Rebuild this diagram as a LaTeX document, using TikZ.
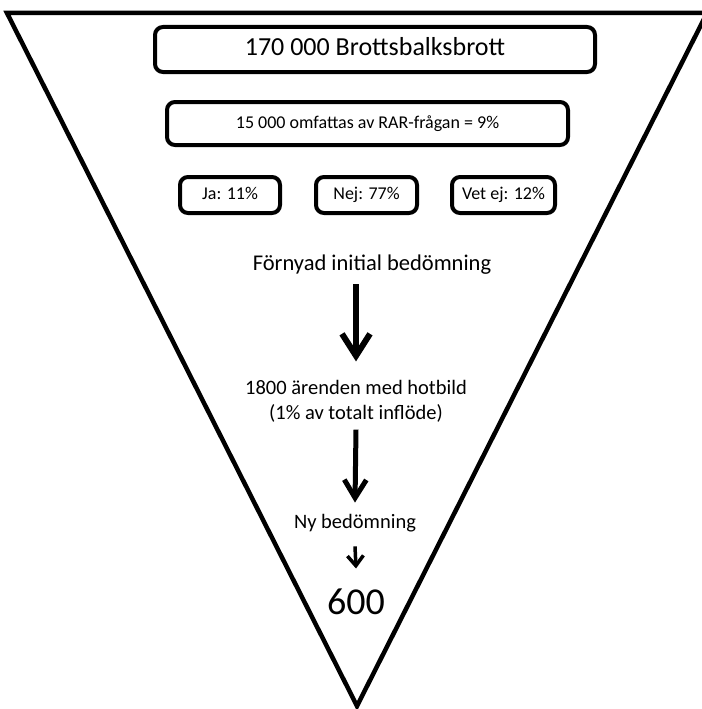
\documentclass[tikz,border=0pt]{standalone}
\usepackage{fontspec}
\setmainfont{Carlito}
\usepackage{tikz}
\usetikzlibrary{arrows.meta}

\begin{document}
\begin{tikzpicture}[x=1pt,y=-1pt,
        box/.style={draw,line width=4pt,rounded corners=8pt,inner sep=0pt,
            text height=12.5pt,text depth=3.5pt,font=\fontsize{18}{21}\selectfont},
        flow/.style={line width=6pt,-{Straight Barb[length=22pt,width=28pt]}}]
            \useasboundingbox (0,0) rectangle (701,709);

            %funnel
            \draw[line width=4.5pt,line join=miter] (7,13) -- (707,13) -- (357,706) -- cycle;

            \node[box,minimum width=440pt,minimum height=45pt,text height=18pt,text depth=5pt,
                font=\fontsize{26}{30}\selectfont] (total) at (375,49.5) {170 000 Brottsbalksbrott};
            \node[box,minimum width=401pt,minimum height=43pt] (rar) at (367.5,123.5)
                {15 000 omfattas av RAR-frågan = 9\%};
            \node[box,minimum width=100pt,minimum height=36pt] (ja) at (230,195) {Ja: 11\%};
            \node[box,minimum width=101pt,minimum height=36pt] (nej) at (366.5,195) {Nej: 77\%};
            \node[box,minimum width=103pt,minimum height=36pt] (vetej) at (503.5,195) {Vet ej: 12\%};

            \node[font=\fontsize{22.5}{27}\selectfont] (fornyad) at (372,265) {Förnyad initial bedömning};
            \node[align=center,font=\fontsize{20.5}{25}\selectfont] (hotbild) at (356,401)
                {1800 ärenden med hotbild\\(1\% av totalt inflöde)};
            \node[font=\fontsize{20.5}{24}\selectfont] (ny) at (355,523) {Ny bedömning};
            \node[font=\fontsize{38}{42}\selectfont] (sexhundra) at (356,602) {600};

            \draw[flow] ([yshift=-6pt]fornyad.south -| hotbild.north) -- ([yshift=15pt]hotbild.north);
            \draw[flow,line width=5pt,-{Straight Barb[length=18pt,width=22pt]}] ([yshift=-4pt]hotbild.south) -- ([yshift=8pt]ny.north);
            \draw[line width=3.5pt,-{Straight Barb[length=10pt,width=16pt]}] ([yshift=-11pt]ny.south) -- ([yshift=17pt]sexhundra.north);
        \end{tikzpicture}
\end{document}
